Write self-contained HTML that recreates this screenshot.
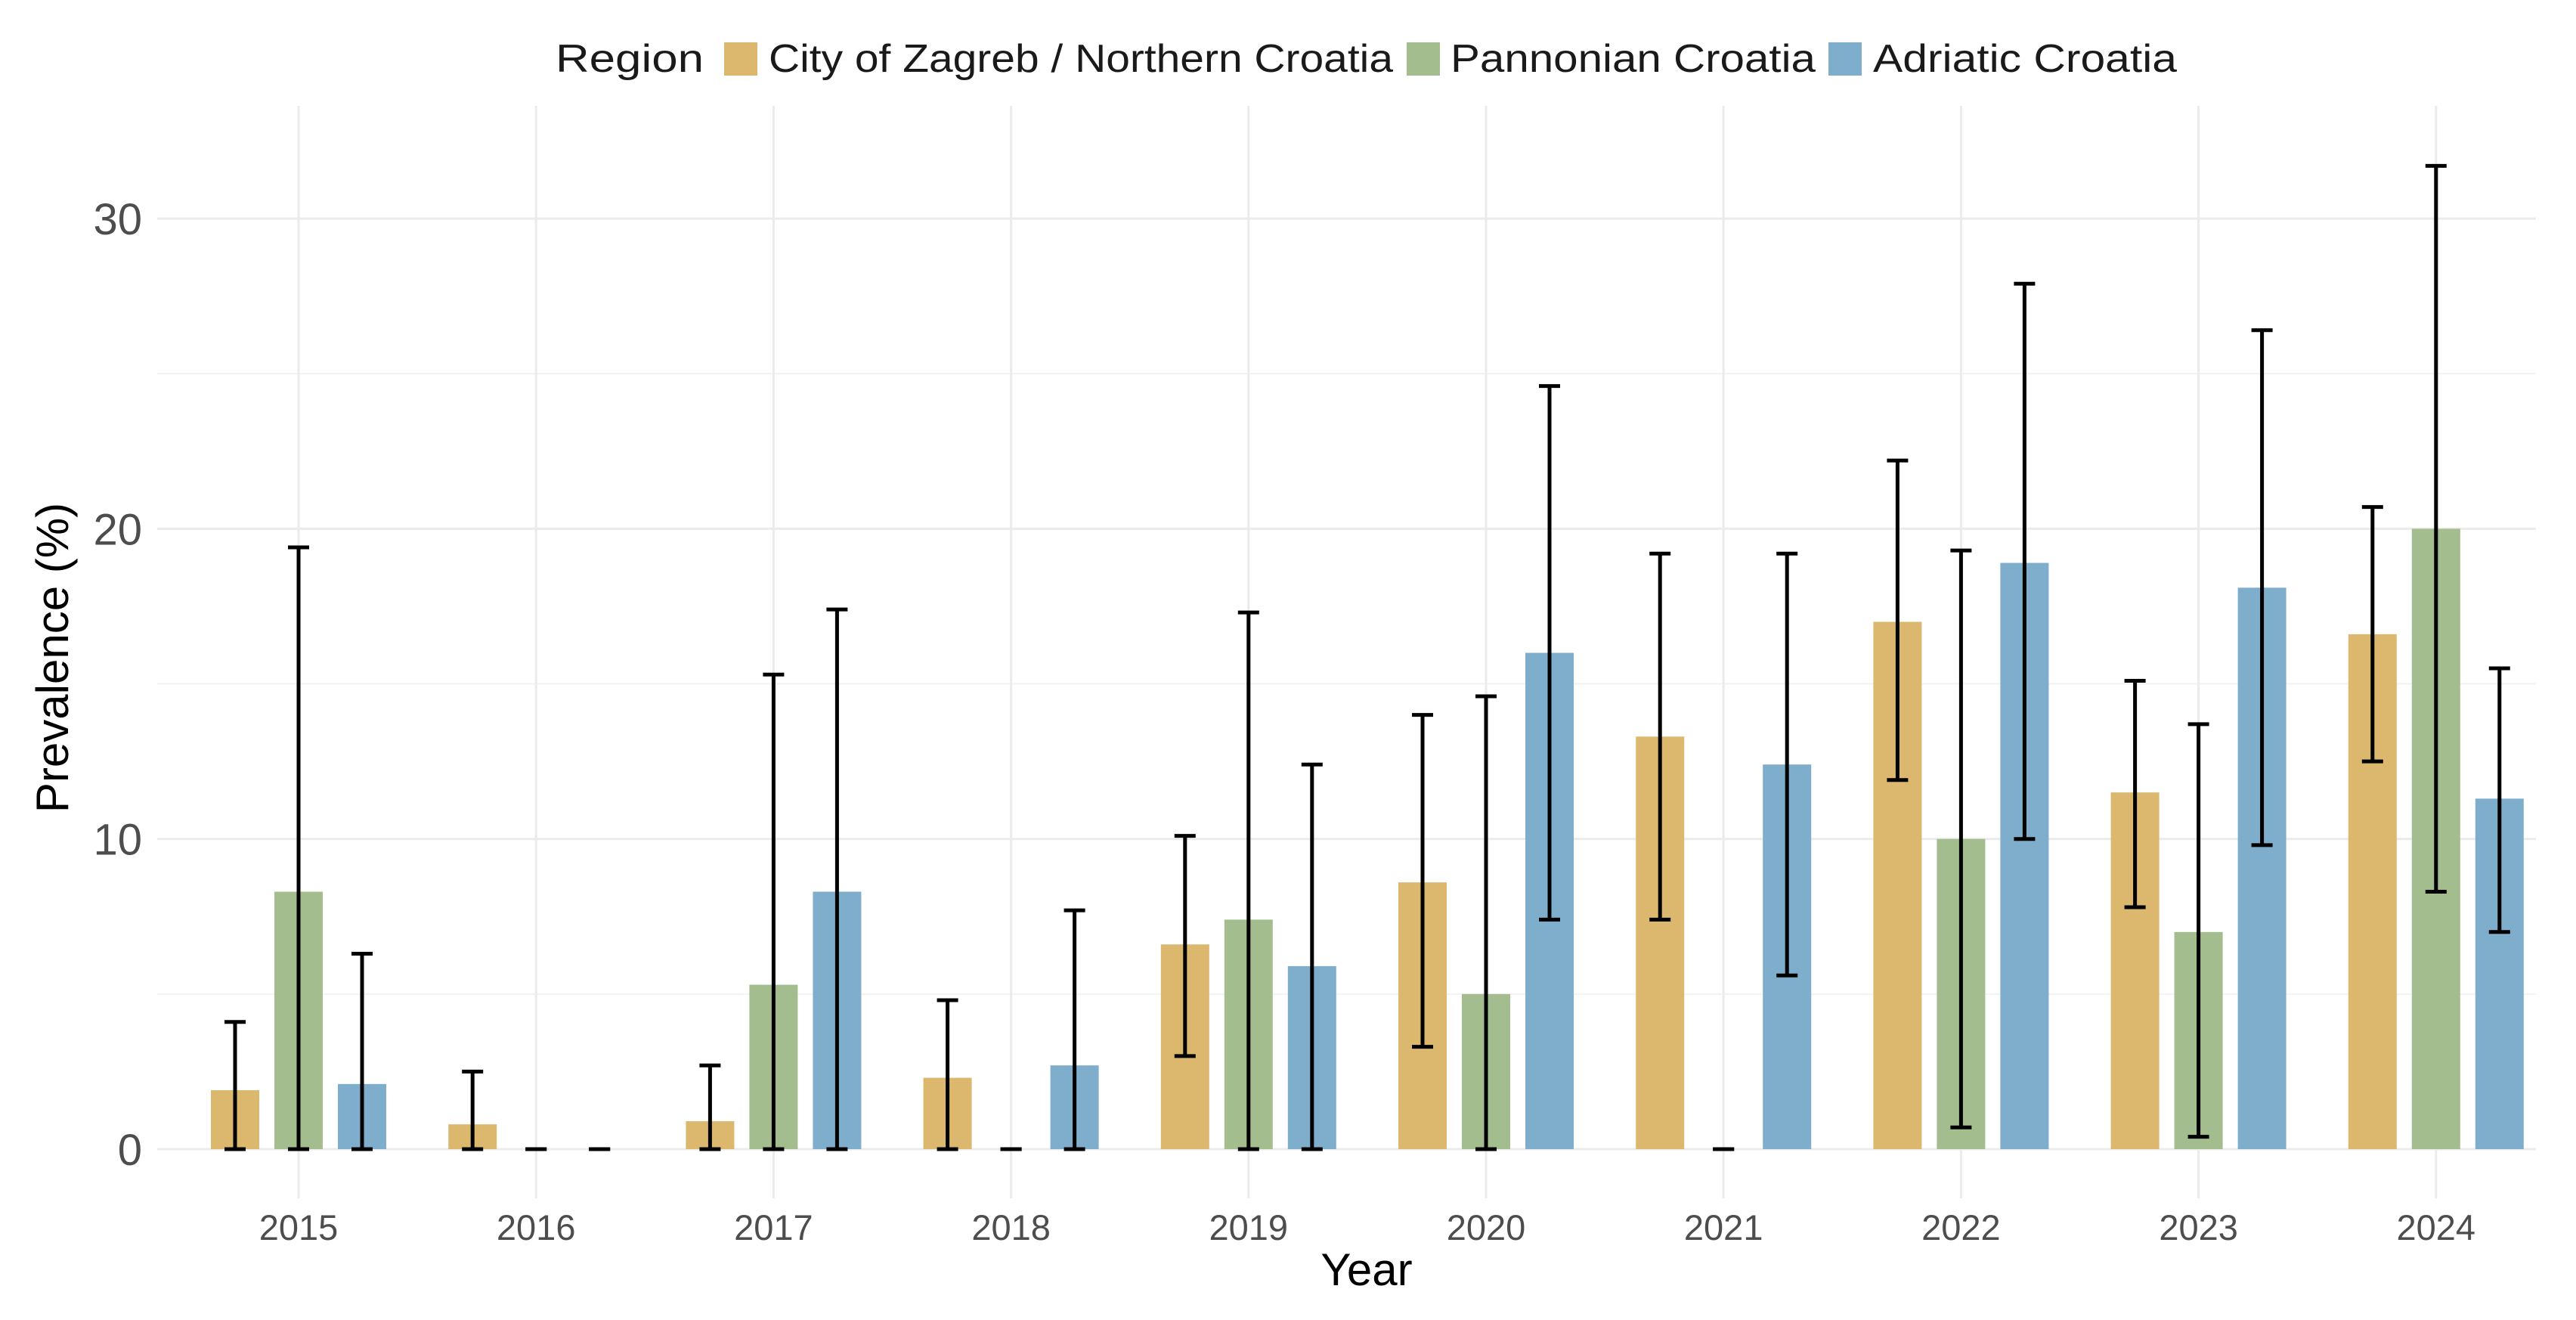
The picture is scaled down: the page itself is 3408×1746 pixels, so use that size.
<!DOCTYPE html>
<html><head><meta charset="utf-8"><style>
html,body{margin:0;padding:0;background:#fff;}
svg{display:block;font-family:"Liberation Sans",Arial,sans-serif;}
</style></head><body>
<svg id="chart" width="3408" height="1746" viewBox="0 0 3408 1746" xmlns="http://www.w3.org/2000/svg">
<rect width="3408" height="1746" fill="#fff"/>
<g id="grid"></g>
<g id="bars"></g>
<g id="errs"></g>
<g id="axes"></g>
<g>
<text x="735" y="95" font-size="52" textLength="196" lengthAdjust="spacingAndGlyphs" fill="#1a1a1a">Region</text>
<rect x="958" y="56" width="44" height="44" fill="#dcb86f"/>
<text x="1017" y="95" font-size="52" textLength="826" lengthAdjust="spacingAndGlyphs" fill="#1a1a1a">City of Zagreb / Northern Croatia</text>
<rect x="1861" y="56" width="44" height="44" fill="#a3bd8e"/>
<text x="1919" y="95" font-size="52" textLength="483" lengthAdjust="spacingAndGlyphs" fill="#1a1a1a">Pannonian Croatia</text>
<rect x="2419" y="56" width="44" height="44" fill="#7eaecb"/>
<text x="2478" y="95" font-size="52" textLength="402" lengthAdjust="spacingAndGlyphs" fill="#1a1a1a">Adriatic Croatia</text>
</g>
<text x="1808" y="1700" font-size="60" text-anchor="middle" fill="#000">Year</text>
<text transform="translate(90,870) rotate(-90)" font-size="60" text-anchor="middle" fill="#000">Prevalence (%)</text>
</svg>
<script>
const years = [2015,2016,2017,2018,2019,2020,2021,2022,2023,2024];
const zagreb = [1.9,0.8,0.9,2.3,6.6,8.6,13.3,17.0,11.5,16.6];
const zagrebLo = [0,0,0,0,3.0,3.3,7.4,11.9,7.8,12.5];
const zagrebHi = [4.1,2.5,2.7,4.8,10.1,14.0,19.2,22.2,15.1,20.7];
const pannonian = [8.3,0,5.3,0,7.4,5.0,0,10.0,7.0,20.0];
const pannonianLo = [0,0,0,0,0,0,0,0.7,0.4,8.3];
const pannonianHi = [19.4,0,15.3,0,17.3,14.6,0,19.3,13.7,31.7];
const adriatic = [2.1,0,8.3,2.7,5.9,16.0,12.4,18.9,18.1,11.3];
const adriaticLo = [0,0,0,0,0,7.4,5.6,10.0,9.8,7.0];
const adriaticHi = [6.3,0,17.4,7.7,12.4,24.6,19.2,27.9,26.4,15.5];
const yTicks = [0,10,20,30];
const yMinor = [5,15,25];

const NS="http://www.w3.org/2000/svg";
const X0=208, X1=3355, Y0=1520, PXU=41.03;
const xs = y => 395 + (y-2015)*314.2;
const ys = v => Y0 - v*PXU;
function mk(tag, attrs, parent){const e=document.createElementNS(NS,tag);for(const k in attrs)e.setAttribute(k,attrs[k]);parent.appendChild(e);return e;}
const grid=document.getElementById('grid'), bars=document.getElementById('bars'), errs=document.getElementById('errs'), axes=document.getElementById('axes');
yMinor.forEach(v=>{const l=mk('line',{x1:X0,x2:X1,y1:ys(v),y2:ys(v),stroke:'#f2f2f2','stroke-width':2},grid);

});
yTicks.forEach(v=>{const l=mk('line',{x1:X0,x2:X1,y1:ys(v),y2:ys(v),stroke:'#ebebeb','stroke-width':3},grid);


const t=mk('text',{x:188,y:ys(v)+21,'font-size':58,'text-anchor':'end',fill:'#4d4d4d'},axes);t.textContent=v;

});
years.forEach(yr=>{const l=mk('line',{x1:xs(yr),x2:xs(yr),y1:140,y2:1585,stroke:'#ebebeb','stroke-width':3},grid);


const t=mk('text',{x:xs(yr),y:1640,'font-size':47,'text-anchor':'middle',fill:'#4d4d4d'},axes);t.textContent=yr;

});
const series=[[zagreb,zagrebLo,zagrebHi,'#dcb86f',-84,'zagreb'],[pannonian,pannonianLo,pannonianHi,'#a3bd8e',0,'pannonian'],[adriatic,adriaticLo,adriaticHi,'#7eaecb',84,'adriatic']];
series.forEach(([vals,lo,hi,col,off,nm])=>{
 years.forEach((yr,i)=>{
  const cx=xs(yr)+off;
  if(vals[i]>0){const r=mk('rect',{x:cx-32,y:ys(vals[i]),width:64,height:ys(0)-ys(vals[i]),fill:col},bars);
  
  }
  const g=mk('g',{stroke:'#000','stroke-width':5},errs);
  
  
  mk('line',{x1:cx,x2:cx,y1:ys(lo[i]),y2:ys(hi[i])},g);
  mk('line',{x1:cx-14,x2:cx+14,y1:ys(lo[i]),y2:ys(lo[i])},g);
  mk('line',{x1:cx-14,x2:cx+14,y1:ys(hi[i]),y2:ys(hi[i])},g);
 });
});
</script>
</body></html>
